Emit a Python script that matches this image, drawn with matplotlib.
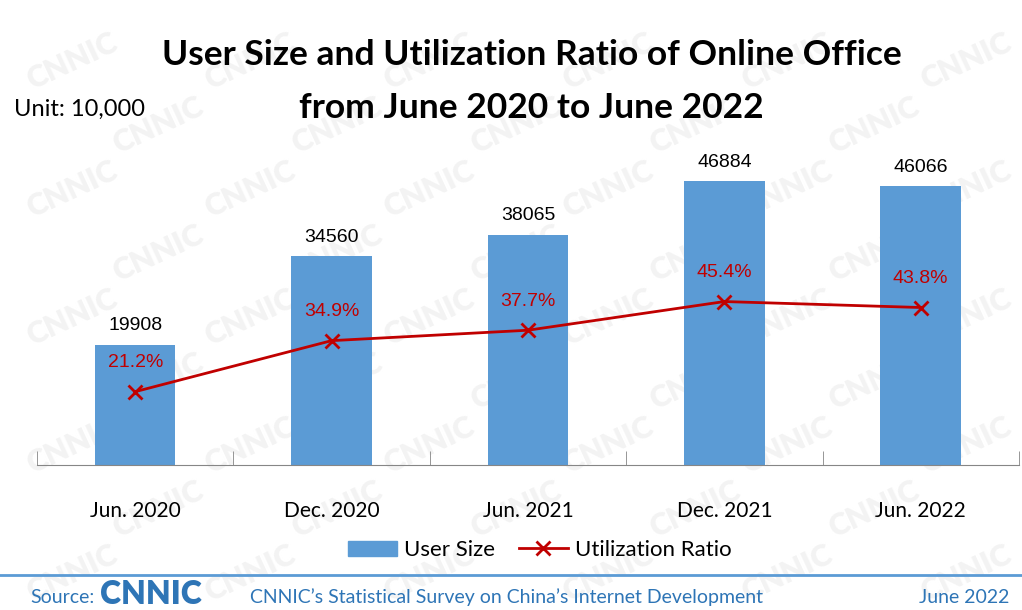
import matplotlib.pyplot as plt
from matplotlib.lines import Line2D
from matplotlib.patches import Patch

# data
periods = ["Jun. 2020", "Dec. 2020", "Jun. 2021", "Dec. 2021", "Jun. 2022"]
user_size = [19908, 34560, 38065, 46884, 46066]
ratio = [21.2, 34.9, 37.7, 45.4, 43.8]

blue = "#5b9bd5"
red = "#c00000"
body = "Lato"

fig = plt.figure(figsize=(10.22, 6.10), dpi=100)

# faint watermark, kept inside the figure
for row in range(9):
    for col in range(6):
        x = 0.07 + col * 0.175 + (row % 2) * 0.085
        y = 0.06 + row * 0.105
        if x > 0.95 or y > 0.95:
            continue
        fig.text(x, y, "CNNIC", fontsize=22, fontweight="heavy", color="#f3f3f3",
                 rotation=25, ha="center", va="center", family=body, zorder=-5)

ax = fig.add_axes([0.0362, 0.2377, 0.9608, 0.5951])
ax.patch.set_alpha(0)
x = list(range(len(periods)))
ax.bar(x, user_size, width=0.41, color=blue, zorder=2)
ax.set_xlim(-0.5, 4.5)
ax.set_ylim(0, 60000)
for xi, v in zip(x, user_size):
    ax.text(xi, v + 1700, str(v), ha="center", va="bottom", fontsize=14,
            family="Liberation Sans", color="black")

ax.set_xticks(x)
ax.set_xticklabels(periods, fontsize=15, family=body)
ax.set_xticks([i - 0.5 for i in range(len(periods) + 1)], minor=True)
ax.tick_params(axis="x", which="major", length=0, pad=26)
ax.tick_params(axis="x", which="minor", length=10, direction="in", color="#868686")
ax.set_yticks([])
for s in ["top", "right", "left"]:
    ax.spines[s].set_visible(False)
ax.spines["bottom"].set_color("#868686")

ax2 = ax.twinx()
ax2.plot(x, ratio, color=red, marker="x", markersize=10, markeredgewidth=2,
         linewidth=2, zorder=3)
ax2.set_ylim(1.5, 99)
ax2.set_yticks([])
for s in ["top", "right", "left", "bottom"]:
    ax2.spines[s].set_visible(False)
for xi, r in zip(x, ratio):
    ax2.text(xi, r + 5.5, f"{r}%", ha="center", va="bottom", fontsize=14,
             family="Liberation Sans", color=red)

fig.text(0.52, 0.91, "User Size and Utilization Ratio of Online Office",
         ha="center", va="center", fontsize=25.5, fontweight="bold", family=body)
fig.text(0.52, 0.823, "from June 2020 to June 2022",
         ha="center", va="center", fontsize=25.5, fontweight="bold", family=body)
fig.text(0.014, 0.82, "Unit: 10,000", ha="left", va="center", fontsize=17, family=body)

handles = [Patch(color=blue, label="User Size"),
           Line2D([], [], color=red, marker="x", markersize=10, markeredgewidth=2,
                  linewidth=2, label="Utilization Ratio")]
fig.legend(handles=handles, loc="center", bbox_to_anchor=(0.528, 0.098), ncol=2,
           frameon=False, prop={"family": body, "size": 16}, handlelength=2.2,
           columnspacing=1.1, handletextpad=0.3)

# footer
fig.add_artist(Line2D([0, 1], [0.057, 0.057], color=blue, linewidth=2))
fig.text(0.03, 0.021, "Source:", fontsize=14, color="#2e75b6", family=body, va="center")
fig.text(0.098, 0.026, "CNNIC", fontsize=23, fontweight="heavy", color="#2e75b6",
         family=body, va="center")
fig.text(0.245, 0.021, "CNNIC’s Statistical Survey on China’s Internet Development",
         fontsize=14, color="#2e75b6", family=body, va="center")
fig.text(0.988, 0.021, "June 2022", fontsize=14, color="#2e75b6", family=body,
         va="center", ha="right")

fig.savefig("out.png", dpi=100)
